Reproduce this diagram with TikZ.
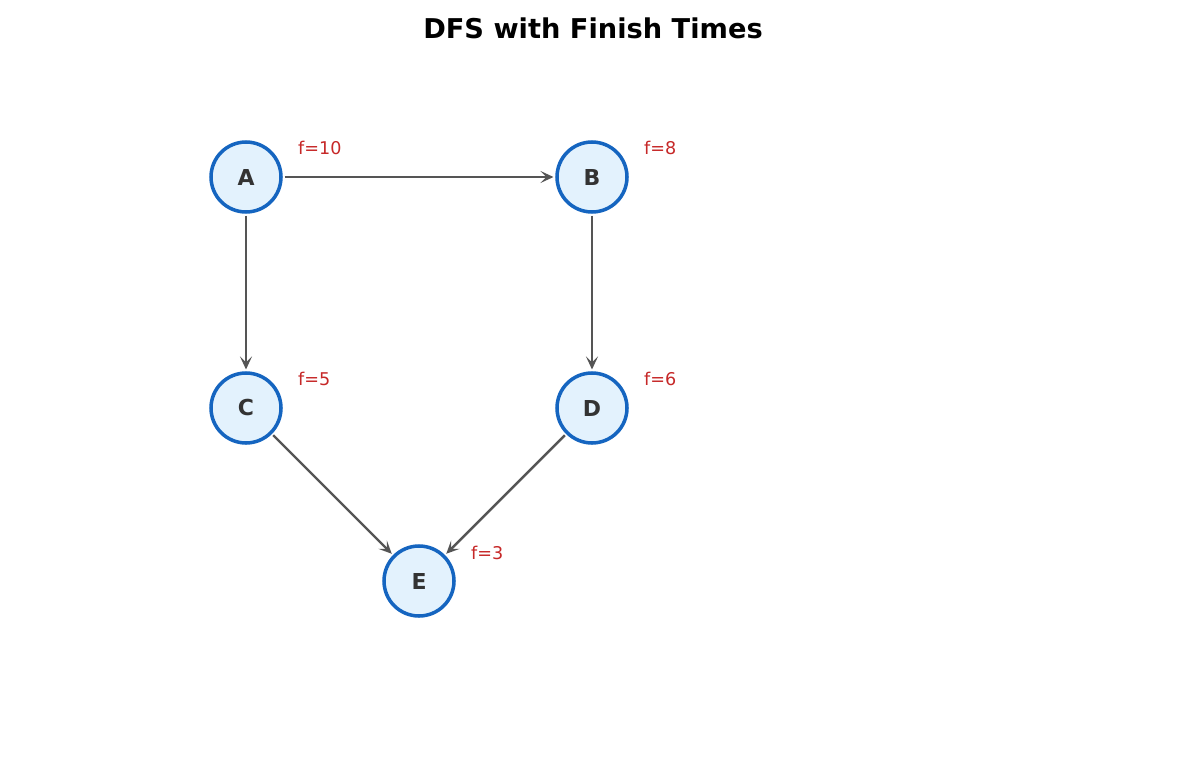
\documentclass[tikz,border=0pt]{standalone}
\usepackage{fontspec}
\setmainfont{DejaVu Sans}
\usetikzlibrary{arrows.meta}
\definecolor{nodeblue}{HTML}{1565C0}
\definecolor{nodefill}{HTML}{E3F2FD}
\definecolor{edgegray}{HTML}{555555}
\definecolor{finred}{HTML}{C62828}
\definecolor{textdark}{HTML}{333333}
\begin{document}
\begin{tikzpicture}[
    vertex/.style={circle, draw=nodeblue, fill=nodefill, line width=2pt, minimum size=1.4cm, inner sep=0pt, text=textdark, font=\fontsize{12.5}{14}\selectfont\bfseries},
    finish/.style={anchor=west, text=finred, font=\fontsize{10}{12}\selectfont},
    edge/.style={-{Stealth[length=2.6mm, width=2.4mm, inset=1.2mm]}, draw=edgegray, line width=1.4pt, shorten >=1pt, shorten <=1pt}
]
    \useasboundingbox (0,0) rectangle (23.7,15.4);
    \node[font=\fontsize{15.5}{18}\selectfont\bfseries] (title) at (11.86,14.84) {DFS with Finish Times};
    \node[vertex] (A) at (4.92,11.86) {A};
    \node[vertex] (B) at (11.84,11.86) {B};
    \node[vertex] (C) at (4.92,7.24) {C};
    \node[vertex] (D) at (11.84,7.24) {D};
    \node[vertex] (E) at (8.38,3.78) {E};
    \node[finish] (fA) at (5.84,12.44) {f=10};
    \node[finish] (fB) at (12.76,12.44) {f=8};
    \node[finish] (fC) at (5.84,7.82) {f=5};
    \node[finish] (fD) at (12.76,7.82) {f=6};
    \node[finish] (fE) at (9.3,4.34) {f=3};
    \foreach \from/\to in {A/B, A/C, B/D, C/E, D/E}
        \draw[edge] (\from) -- (\to);
\end{tikzpicture}
\end{document}
